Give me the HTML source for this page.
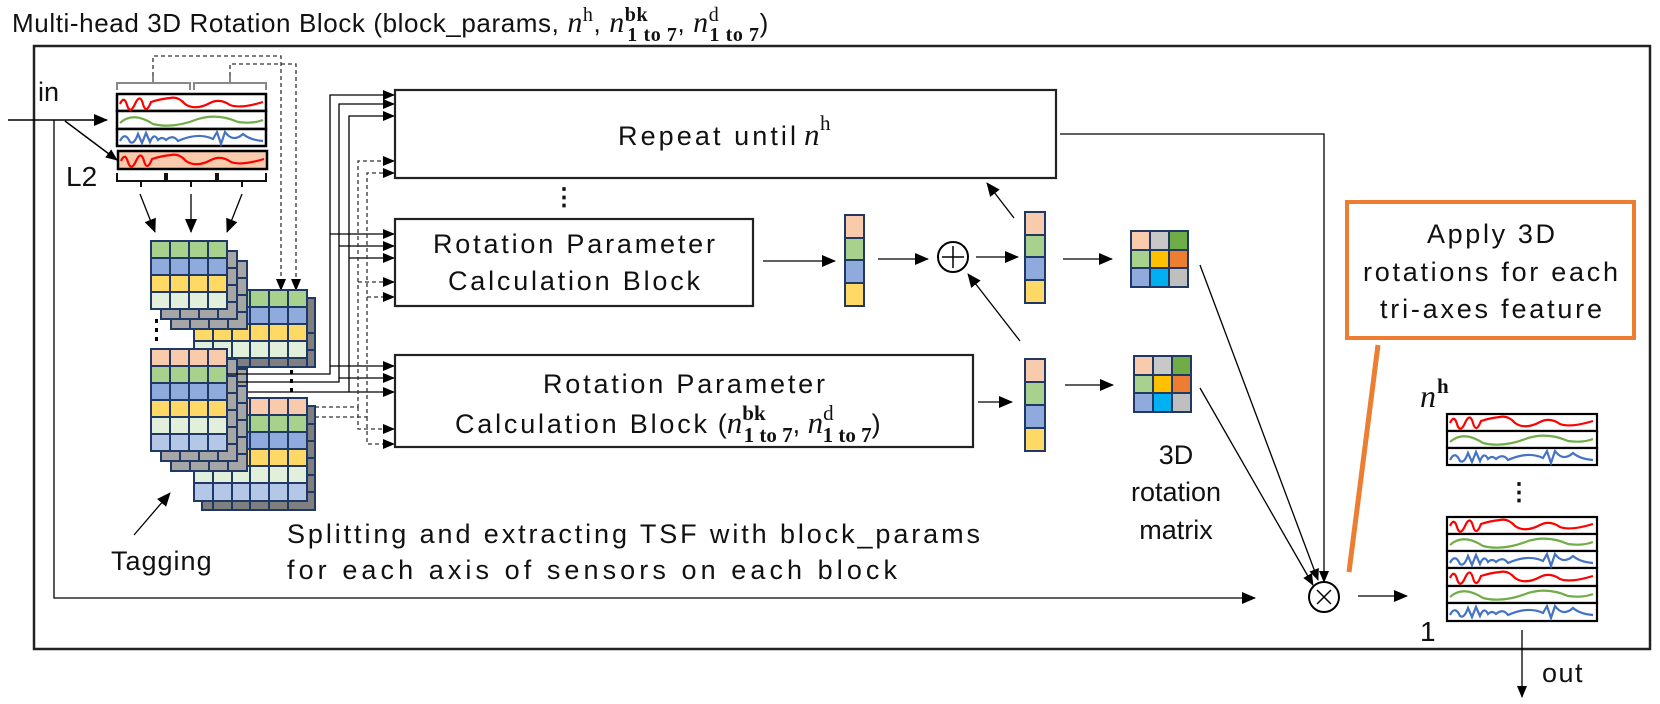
<!DOCTYPE html>
<html><head><meta charset="utf-8"><style>
html,body{margin:0;padding:0;background:#fff;}
svg{display:block;}
text{font-family:"Liberation Sans",sans-serif;fill:#111;}
.m{font-family:"Liberation Serif",serif;}
</style></head><body>
<svg width="1660" height="704" viewBox="0 0 1660 704" xmlns="http://www.w3.org/2000/svg">
<defs>
<marker id="a" markerUnits="userSpaceOnUse" markerWidth="14" markerHeight="12" refX="13" refY="6" orient="auto"><path d="M0,0 L14,6 L0,12 z" fill="#000"/></marker>
<marker id="s" markerUnits="userSpaceOnUse" markerWidth="12" markerHeight="10" refX="11" refY="5" orient="auto"><path d="M0,0 L12,5 L0,10 z" fill="#000"/></marker>
<g id="wr"><path d="M2,9 Q6,0 9,10 T17,9 T25,9 T33,7 Q42,4 52,3 Q60,1 67,9 Q77,16 92,8 Q102,3 112,10 Q122,14 145,7" fill="none" stroke="#f00" stroke-width="2.2"/></g>
<g id="wg"><path d="M2,12 Q15,0 35,13 Q55,18 80,8 Q100,2 120,11 Q135,13 145,9" fill="none" stroke="#70ad47" stroke-width="2.2"/></g>
<g id="wb"><path d="M2,12 Q7,2 12,13 Q16,16 20,5 L24,14 L28,4 L32,13 Q36,3 40,11 Q44,7 48,11 Q55,5 60,12 Q80,3 95,10 L99,3 L103,15 L107,3 Q115,14 125,5 Q132,11 145,12" fill="none" stroke="#4472c4" stroke-width="2.2"/></g>
</defs>

<!-- title -->
<text x="12" y="32" font-size="26" letter-spacing="0.6">Multi-head 3D Rotation Block (block_params, <tspan class="m" font-style="italic" font-size="30">n</tspan><tspan class="m" font-size="20" dy="-11">h</tspan><tspan dy="11">, </tspan><tspan class="m" font-style="italic" font-size="30">n</tspan><tspan class="m" font-size="20" font-weight="bold" dy="-11">bk</tspan><tspan class="m" font-size="20" font-weight="bold" dx="-21" dy="20">1 to 7</tspan><tspan dy="-9">, </tspan><tspan class="m" font-style="italic" font-size="30">n</tspan><tspan class="m" font-size="20" dy="-11">d</tspan><tspan class="m" font-size="20" font-weight="bold" dx="-10" dy="20">1 to 7</tspan><tspan dy="-9">)</tspan></text>

<rect x="34" y="46" width="1616" height="603" fill="none" stroke="#222" stroke-width="2.5"/>

<!-- input -->
<text x="38" y="101" font-size="27">in</text>
<line x1="8" y1="120" x2="107" y2="120" stroke="#000" stroke-width="1.5" marker-end="url(#a)"/>
<line x1="65" y1="121" x2="117" y2="160" stroke="#000" stroke-width="1.5" marker-end="url(#s)"/>
<polyline points="54,120 54,598 1255,598" fill="none" stroke="#000" stroke-width="1.3" marker-end="url(#a)"/>
<text x="66" y="186" font-size="28">L2</text>

<!-- waveform input -->
<rect x="117" y="94" width="149" height="17" fill="#fff" stroke="#000" stroke-width="2.5"/>
<rect x="117" y="111" width="149" height="18" fill="#fff" stroke="#000" stroke-width="2.5"/>
<rect x="117" y="129" width="149" height="17" fill="#fff" stroke="#000" stroke-width="2.5"/>
<use href="#wr" transform="translate(118,95)"/>
<use href="#wg" transform="translate(118,111)"/>
<use href="#wb" transform="translate(118,129)"/>
<rect x="118" y="151" width="149" height="18" fill="#f8cbad" stroke="#000" stroke-width="2.5"/>
<use href="#wr" transform="translate(119,152)"/>

<!-- braces -->
<path d="M117,90 V83 H190 V90 M153,83 V76" fill="none" stroke="#888" stroke-width="2"/>
<path d="M194,90 V83 H266 V90 M230,83 V76" fill="none" stroke="#888" stroke-width="2"/>
<polyline points="153,76 153,56 281,56 281,290" fill="none" stroke="#333" stroke-width="1.3" stroke-dasharray="4,3" marker-end="url(#s)"/>
<polyline points="230,76 230,64 296,64 296,290" fill="none" stroke="#333" stroke-width="1.3" stroke-dasharray="4,3" marker-end="url(#s)"/>
<path d="M117,173 V181 H165 V173 M141,181 V187 M167,173 V181 H216 V173 M191,181 V187 M218,173 V181 H266 V173 M242,181 V187" fill="none" stroke="#111" stroke-width="2"/>
<line x1="140" y1="194" x2="155" y2="232" stroke="#000" stroke-width="1.3" marker-end="url(#a)"/>
<line x1="191" y1="194" x2="191" y2="232" stroke="#000" stroke-width="1.3" marker-end="url(#a)"/>
<line x1="242" y1="194" x2="227" y2="232" stroke="#000" stroke-width="1.3" marker-end="url(#a)"/>

<!-- grid B -->
<g stroke="#1f3864" stroke-width="2">
<rect x="202" y="298" width="113" height="69" fill="#7f7f7f"/>
<rect x="194" y="290" width="113" height="17" fill="#a9d18e"/>
<rect x="194" y="307" width="113" height="17" fill="#8faadc"/>
<rect x="194" y="324" width="113" height="17" fill="#ffd966"/>
<rect x="194" y="341" width="113" height="17" fill="#e2efda"/>
<path d="M213,290V358M232,290V358M250,290V358M269,290V358M288,290V358M213,358V367M232,358V367M250,358V367M269,358V367M288,358V367M307,316V367M307,333H315M307,350H315" fill="none"/>
</g>
<!-- grid D -->
<g stroke="#1f3864" stroke-width="2">
<rect x="202" y="406" width="113" height="104" fill="#7f7f7f"/>
<rect x="194" y="398" width="113" height="17" fill="#f8cbad"/>
<rect x="194" y="415" width="113" height="17" fill="#a9d18e"/>
<rect x="194" y="432" width="113" height="17" fill="#8faadc"/>
<rect x="194" y="449" width="113" height="17" fill="#ffd966"/>
<rect x="194" y="466" width="113" height="17" fill="#e2efda"/>
<rect x="194" y="483" width="113" height="18" fill="#b4c7e7"/>
<path d="M213,398V510M232,398V510M250,398V510M269,398V510M288,398V510M307,424H315M307,441H315M307,458H315M307,475H315M307,492H315" fill="none"/>
</g>
<!-- grid A -->
<g stroke="#1f3864" stroke-width="2">
<rect x="171" y="261" width="76" height="68" fill="#a6a6a6"/>
<path d="M190,261V329M209,261V329M228,261V329M171,278H247M171,295H247M171,312H247" fill="none"/>
<rect x="161" y="251" width="76" height="68" fill="#a6a6a6"/>
<path d="M180,251V319M199,251V319M218,251V319M161,268H237M161,285H237M161,302H237" fill="none"/>
<rect x="151" y="241" width="76" height="17" fill="#a9d18e"/>
<rect x="151" y="258" width="76" height="17" fill="#8faadc"/>
<rect x="151" y="275" width="76" height="17" fill="#ffd966"/>
<rect x="151" y="292" width="76" height="17" fill="#e2efda"/>
<path d="M170,241V309M189,241V309M208,241V309" fill="none"/>
</g>
<!-- grid C -->
<g stroke="#1f3864" stroke-width="2">
<rect x="171" y="369" width="76" height="102" fill="#a6a6a6"/>
<path d="M190,369V471M209,369V471M228,369V471M171,386H247M171,403H247M171,420H247M171,437H247M171,454H247" fill="none"/>
<rect x="161" y="359" width="76" height="102" fill="#a6a6a6"/>
<path d="M180,359V461M199,359V461M218,359V461M161,376H237M161,393H237M161,410H237M161,427H237M161,444H237" fill="none"/>
<rect x="151" y="349" width="76" height="17" fill="#f8cbad"/>
<rect x="151" y="366" width="76" height="17" fill="#a9d18e"/>
<rect x="151" y="383" width="76" height="17" fill="#8faadc"/>
<rect x="151" y="400" width="76" height="17" fill="#ffd966"/>
<rect x="151" y="417" width="76" height="17" fill="#e2efda"/>
<rect x="151" y="434" width="76" height="17" fill="#b4c7e7"/>
<path d="M170,349V451M189,349V451M208,349V451" fill="none"/>
</g>
<g fill="#000">
<rect x="155" y="319" width="3" height="4"/><rect x="155" y="328" width="3" height="4"/><rect x="155" y="337" width="3" height="4"/>
<rect x="290" y="370" width="3" height="4"/><rect x="290" y="379" width="3" height="4"/><rect x="290" y="388" width="3" height="4"/>
</g>

<!-- connector lines to boxes -->
<g fill="none" stroke="#000" stroke-width="1.3">
<polyline points="227,374 330,374 330,95 394,95" marker-end="url(#s)"/>
<polyline points="238,382 339,382 339,104 394,104" marker-end="url(#s)"/>
<polyline points="248,392 349,392 349,116 394,116" marker-end="url(#s)"/>
<line x1="330" y1="234" x2="394" y2="234" marker-end="url(#s)"/>
<line x1="339" y1="246" x2="394" y2="246" marker-end="url(#s)"/>
<line x1="349" y1="258" x2="394" y2="258" marker-end="url(#s)"/>
<line x1="330" y1="366" x2="394" y2="366" marker-end="url(#s)"/>
<line x1="339" y1="378" x2="394" y2="378" marker-end="url(#s)"/>
<line x1="349" y1="392" x2="394" y2="392" marker-end="url(#s)"/>
</g>
<g fill="none" stroke="#333" stroke-width="1.3" stroke-dasharray="4,3">
<polyline points="315,407 358,407 358,161 394,161" marker-end="url(#s)"/>
<polyline points="315,417 367,417 367,173 394,173" marker-end="url(#s)"/>
<line x1="358" y1="282" x2="394" y2="282" marker-end="url(#s)"/>
<line x1="367" y1="297" x2="394" y2="297" marker-end="url(#s)"/>
<polyline points="358,407 358,429 394,429" marker-end="url(#s)"/>
<polyline points="367,417 367,444 394,444" marker-end="url(#s)"/>
</g>

<!-- boxes -->
<rect x="395" y="90" width="661" height="88" fill="#fff" stroke="#222" stroke-width="2.2"/>
<text x="618" y="145" font-size="27" textLength="178" lengthAdjust="spacing">Repeat until</text>
<text x="804" y="145" font-size="31" class="m" font-style="italic">n</text><text x="820" y="130" font-size="21" class="m">h</text>
<text x="564" y="205" font-size="24" text-anchor="middle" font-weight="bold">⋮</text>

<rect x="395" y="219" width="358" height="87" fill="#fff" stroke="#222" stroke-width="2.2"/>
<text x="433" y="253" font-size="27" textLength="282" lengthAdjust="spacing">Rotation Parameter</text>
<text x="448" y="290" font-size="27" textLength="252" lengthAdjust="spacing">Calculation Block</text>

<rect x="395" y="355" width="578" height="92" fill="#fff" stroke="#222" stroke-width="2.2"/>
<text x="543" y="393" font-size="27" textLength="282" lengthAdjust="spacing">Rotation Parameter</text>
<text x="455" y="433" font-size="27"><tspan textLength="252" lengthAdjust="spacing">Calculation Block</tspan><tspan dx="8">(</tspan><tspan class="m" font-style="italic" font-size="31">n</tspan><tspan class="m" font-size="21" font-weight="bold" dy="-13">bk</tspan><tspan class="m" font-size="21" font-weight="bold" dx="-22" dy="22">1 to 7</tspan><tspan dy="-9">, </tspan><tspan class="m" font-style="italic" font-size="31">n</tspan><tspan class="m" font-size="21" dy="-13">d</tspan><tspan class="m" font-size="21" font-weight="bold" dx="-11" dy="22">1 to 7</tspan><tspan dy="-9">)</tspan></text>

<!-- vectors -->
<g stroke="#1f3864" stroke-width="2">
<rect x="845" y="215" width="19" height="23" fill="#f8cbad"/><rect x="845" y="238" width="19" height="22" fill="#a9d18e"/><rect x="845" y="260" width="19" height="23" fill="#8faadc"/><rect x="845" y="283" width="19" height="23" fill="#ffd966"/>
<rect x="1025" y="212" width="20" height="23" fill="#f8cbad"/><rect x="1025" y="235" width="20" height="22" fill="#a9d18e"/><rect x="1025" y="257" width="20" height="23" fill="#8faadc"/><rect x="1025" y="280" width="20" height="23" fill="#ffd966"/>
<rect x="1025" y="359" width="20" height="23" fill="#f8cbad"/><rect x="1025" y="382" width="20" height="23" fill="#a9d18e"/><rect x="1025" y="405" width="20" height="23" fill="#8faadc"/><rect x="1025" y="428" width="20" height="23" fill="#ffd966"/>
</g>
<!-- matrices -->
<g stroke="#1f3864" stroke-width="2">
<rect x="1131" y="231" width="19" height="19" fill="#f8cbad"/><rect x="1150" y="231" width="19" height="19" fill="#c8c8c8"/><rect x="1169" y="231" width="19" height="19" fill="#70ad47"/>
<rect x="1131" y="250" width="19" height="18" fill="#a9d18e"/><rect x="1150" y="250" width="19" height="18" fill="#ffc000"/><rect x="1169" y="250" width="19" height="18" fill="#ed7d31"/>
<rect x="1131" y="268" width="19" height="19" fill="#8faadc"/><rect x="1150" y="268" width="19" height="19" fill="#00b0f0"/><rect x="1169" y="268" width="19" height="19" fill="#bfbfbf"/>
<rect x="1134" y="356" width="19" height="19" fill="#f8cbad"/><rect x="1153" y="356" width="19" height="19" fill="#c8c8c8"/><rect x="1172" y="356" width="19" height="19" fill="#70ad47"/>
<rect x="1134" y="375" width="19" height="18" fill="#a9d18e"/><rect x="1153" y="375" width="19" height="18" fill="#ffc000"/><rect x="1172" y="375" width="19" height="18" fill="#ed7d31"/>
<rect x="1134" y="393" width="19" height="19" fill="#8faadc"/><rect x="1153" y="393" width="19" height="19" fill="#00b0f0"/><rect x="1172" y="393" width="19" height="19" fill="#bfbfbf"/>
</g>
<text font-size="27" text-anchor="middle"><tspan x="1176" y="464">3D</tspan><tspan x="1176" y="501">rotation</tspan><tspan x="1176" y="539">matrix</tspan></text>

<!-- middle arrows -->
<g stroke="#000" stroke-width="1.3" fill="none">
<line x1="763" y1="261" x2="835" y2="261" marker-end="url(#a)"/>
<line x1="878" y1="259" x2="928" y2="259" marker-end="url(#a)"/>
<line x1="976" y1="257" x2="1018" y2="257" marker-end="url(#a)"/>
<line x1="1063" y1="259" x2="1112" y2="259" marker-end="url(#a)"/>
<line x1="1014" y1="218" x2="987" y2="183" marker-end="url(#a)"/>
<line x1="1020" y1="341" x2="968" y2="274" marker-end="url(#a)"/>
<line x1="978" y1="402" x2="1012" y2="402" marker-end="url(#a)"/>
<line x1="1065" y1="385" x2="1113" y2="385" marker-end="url(#a)"/>
<polyline points="1060,134 1324,134 1324,582" marker-end="url(#s)"/>
<line x1="1200" y1="265" x2="1318" y2="580" marker-end="url(#s)"/>
<line x1="1200" y1="388" x2="1313" y2="585" marker-end="url(#s)"/>
<line x1="1358" y1="596" x2="1407" y2="596" marker-end="url(#a)"/>
<line x1="1522" y1="630" x2="1522" y2="697" marker-end="url(#s)"/>
</g>
<circle cx="953" cy="257" r="15" fill="#fff" stroke="#000" stroke-width="2"/>
<path d="M942,257H964M953,246V268" stroke="#000" stroke-width="1.5"/>
<circle cx="1324" cy="597" r="15" fill="#fff" stroke="#000" stroke-width="2"/>
<path d="M1317,590L1331,604M1331,590L1317,604" stroke="#000" stroke-width="1.5"/>

<!-- orange callout -->
<rect x="1347" y="202" width="287" height="136" fill="none" stroke="#ed7d31" stroke-width="4"/>
<text x="1427" y="243" font-size="27" textLength="128" lengthAdjust="spacing">Apply 3D</text>
<text x="1363" y="281" font-size="27" textLength="255" lengthAdjust="spacing">rotations for each</text>
<text x="1380" y="318" font-size="27" textLength="222" lengthAdjust="spacing">tri-axes feature</text>
<line x1="1378" y1="345" x2="1349" y2="572" stroke="#ed7d31" stroke-width="5"/>

<!-- output -->
<text x="1420" y="407" font-size="32" class="m" font-style="italic">n</text><text x="1437" y="393" font-size="21" class="m" font-weight="bold">h</text>
<g stroke="#000" stroke-width="2.2" fill="#fff">
<rect x="1447" y="414" width="150" height="17"/><rect x="1447" y="431" width="150" height="17"/><rect x="1447" y="448" width="150" height="17"/>
<rect x="1447" y="517" width="150" height="17"/><rect x="1447" y="534" width="150" height="17"/><rect x="1447" y="551" width="150" height="17"/>
<rect x="1447" y="568" width="150" height="18"/><rect x="1447" y="586" width="150" height="17"/><rect x="1447" y="603" width="150" height="18"/>
</g>
<use href="#wr" transform="translate(1448,414)"/><use href="#wg" transform="translate(1448,430)"/><use href="#wb" transform="translate(1448,448)"/>
<use href="#wr" transform="translate(1448,517)"/><use href="#wg" transform="translate(1448,533)"/><use href="#wb" transform="translate(1448,551)"/>
<use href="#wr" transform="translate(1448,569)"/><use href="#wg" transform="translate(1448,585)"/><use href="#wb" transform="translate(1448,603)"/>
<text x="1519" y="500" font-size="24" text-anchor="middle" font-weight="bold">⋮</text>
<text x="1420" y="641" font-size="28">1</text>
<text x="1542" y="682" font-size="27" letter-spacing="1.5">out</text>

<!-- bottom texts -->
<text x="287" y="543" font-size="27" textLength="693" lengthAdjust="spacing">Splitting and extracting TSF with block_params</text>
<text x="287" y="579" font-size="27" textLength="610" lengthAdjust="spacing">for each axis of sensors on each block</text>
<line x1="134" y1="535" x2="170" y2="493" stroke="#000" stroke-width="1.3" marker-end="url(#a)"/>
<text x="111" y="570" font-size="27" letter-spacing="1">Tagging</text>
</svg>
</body></html>
